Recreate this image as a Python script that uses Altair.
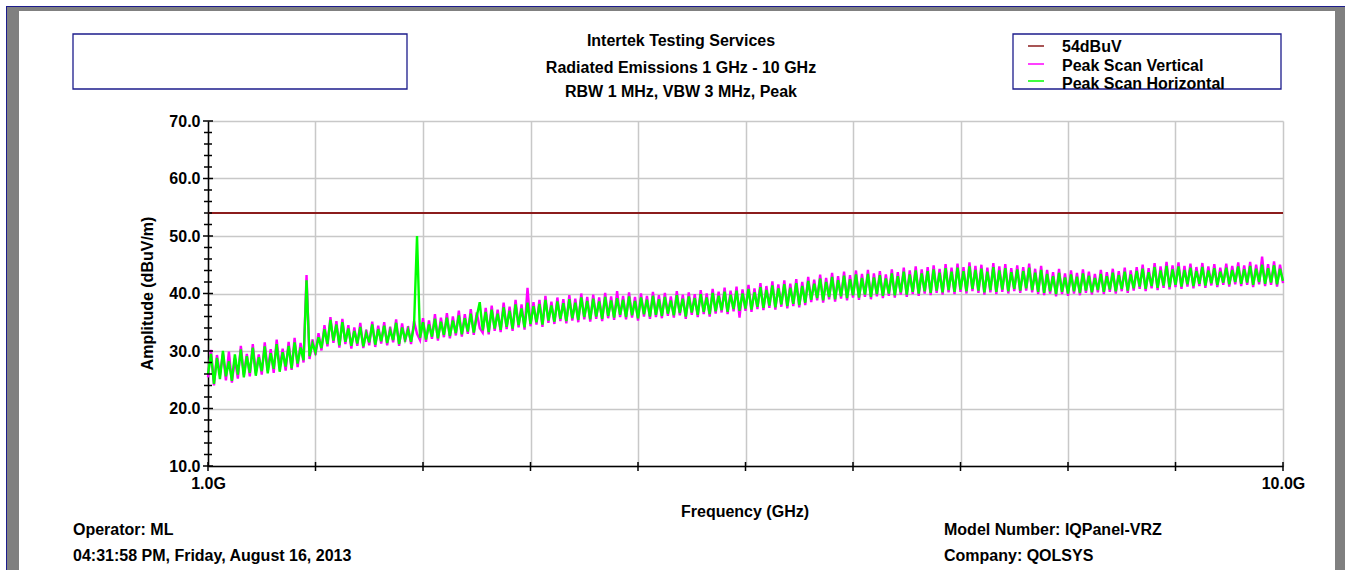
import altair as alt
import pandas as pd

# Sweep settings (GHz)
FREQ_START = 1.0
FREQ_STEP = 0.025

# Peak scan, vertical antenna polarisation (dBuV/m), one value per sweep step
vertical = [
    25.4, 30.2, 24.0, 29.3, 25.8, 29.6, 24.9, 29.9, 24.5, 28.7,
    25.2, 30.9, 25.8, 29.5, 25.6, 31.2, 26.1, 29.4, 25.9, 31.5,
    26.5, 30.3, 26.2, 32.0, 27.0, 30.4, 26.6, 31.6, 26.7, 32.3,
    27.2, 31.4, 28.0, 43.2, 28.6, 32.0, 29.3, 33.1, 30.1, 34.5,
    30.8, 35.9, 31.4, 35.2, 30.6, 35.6, 31.2, 34.5, 30.4, 34.1,
    30.9, 34.9, 30.5, 33.7, 31.0, 35.1, 30.7, 34.4, 31.3, 35.0,
    31.0, 34.2, 31.5, 35.5, 30.9, 34.8, 31.6, 34.3, 31.2, 35.2,
    33.0, 31.9, 35.7, 31.6, 35.3, 32.1, 36.4, 31.8, 35.8, 32.4,
    36.6, 32.2, 36.0, 32.7, 37.0, 32.5, 36.4, 33.0, 37.3, 32.8,
    36.7, 34.0, 33.2, 37.5, 32.9, 37.9, 33.5, 37.2, 33.3, 38.4,
    33.8, 37.7, 33.5, 38.9, 34.1, 38.1, 33.7, 41.0, 34.3, 38.5,
    34.6, 38.9, 34.2, 39.6, 34.9, 38.6, 34.7, 39.3, 35.2, 39.0,
    34.8, 39.7, 35.3, 39.1, 35.0, 40.0, 35.5, 39.4, 35.1, 39.8,
    35.6, 39.3, 35.2, 40.1, 35.7, 39.5, 35.4, 40.4, 35.9, 39.6,
    35.5, 40.2, 35.8, 39.4, 35.3, 40.0, 36.0, 39.6, 35.6, 40.3,
    35.9, 39.7, 35.7, 40.1, 36.1, 39.5, 35.8, 40.4, 36.2, 39.8,
    35.6, 40.2, 36.3, 39.9, 35.9, 40.6, 36.4, 40.0, 36.0, 40.8,
    36.5, 40.3, 36.7, 41.0, 36.4, 40.5, 36.9, 41.2, 35.8, 40.7,
    37.0, 41.5, 36.8, 40.9, 37.3, 41.8, 37.1, 41.3, 37.5, 42.1,
    37.2, 41.6, 37.7, 42.3, 37.4, 41.7, 37.8, 42.5, 37.6, 42.0,
    38.0, 42.9, 38.5, 42.4, 38.8, 43.3, 38.4, 42.7, 39.0, 43.6,
    38.6, 43.0, 39.1, 43.8, 38.8, 43.2, 39.3, 44.0, 38.9, 43.4,
    39.4, 44.1, 39.0, 43.5, 39.5, 43.9, 39.2, 43.3, 39.6, 44.2,
    39.3, 43.7, 39.8, 44.5, 39.4, 44.0, 39.9, 44.7, 39.6, 44.2,
    40.0, 44.6, 39.7, 44.9, 40.1, 44.3, 39.8, 45.1, 40.2, 44.5,
    39.9, 45.2, 40.3, 44.6, 40.0, 45.4, 40.4, 44.8, 40.1, 45.0,
    39.8, 44.5, 40.2, 45.3, 39.9, 44.7, 40.3, 45.1, 40.0, 44.4,
    40.4, 44.9, 40.1, 44.6, 40.5, 45.2, 40.2, 44.3, 39.9, 44.8,
    39.7, 44.1, 40.0, 43.7, 39.5, 44.3, 39.9, 43.5, 39.6, 44.0,
    40.0, 43.6, 39.7, 44.2, 40.1, 43.8, 39.8, 43.4, 40.2, 44.1,
    39.9, 43.7, 40.3, 44.3, 40.0, 43.9, 40.4, 44.5, 40.1, 44.0,
    40.5, 44.6, 40.8, 45.0, 40.4, 44.4, 40.9, 45.3, 40.6, 44.7,
    41.0, 45.5, 40.7, 44.9, 41.1, 45.4, 40.8, 44.8, 41.2, 45.2,
    40.9, 44.6, 41.3, 45.3, 41.0, 44.7, 41.4, 45.1, 41.1, 44.5,
    41.5, 45.2, 41.2, 44.8, 41.6, 45.4, 41.3, 44.9, 41.5, 45.5,
    41.1, 45.0, 41.6, 46.4, 41.3, 45.1, 41.5, 45.6, 41.2, 45.0,
    41.8,
]

# Peak scan, horizontal antenna polarisation (dBuV/m)
horizontal = [
    26.0, 29.5, 24.3, 28.8, 25.1, 30.0, 25.6, 28.2, 24.8, 29.4,
    25.9, 30.3, 25.4, 29.1, 26.2, 30.6, 25.7, 28.9, 26.5, 30.8,
    26.1, 29.6, 26.9, 31.2, 26.4, 29.8, 27.3, 30.9, 27.0, 31.5,
    27.8, 30.6, 28.4, 42.3, 29.1, 31.3, 29.8, 32.4, 30.5, 33.8,
    31.2, 35.4, 31.8, 34.6, 31.0, 35.0, 31.6, 33.9, 30.9, 33.5,
    31.3, 34.2, 30.8, 33.1, 31.5, 34.6, 31.1, 33.8, 31.7, 34.4,
    31.4, 33.6, 31.9, 34.9, 31.2, 34.1, 32.0, 33.7, 31.6, 34.5,
    50.0, 32.3, 35.0, 32.0, 34.6, 32.5, 35.6, 32.2, 35.1, 32.8,
    35.8, 32.6, 35.3, 33.1, 36.2, 32.9, 35.7, 33.4, 36.5, 33.2,
    36.0, 38.5, 33.6, 36.8, 33.3, 37.2, 33.9, 36.5, 33.7, 37.6,
    34.2, 37.0, 33.9, 38.1, 34.5, 37.4, 34.1, 38.4, 34.7, 37.8,
    35.0, 38.2, 34.6, 38.9, 35.3, 37.9, 35.1, 38.6, 35.6, 38.3,
    35.2, 39.0, 35.7, 38.4, 35.4, 39.3, 35.9, 38.7, 35.5, 39.1,
    36.0, 38.6, 35.6, 39.4, 36.1, 38.8, 35.8, 39.2, 36.3, 38.9,
    35.9, 39.5, 36.2, 38.7, 35.7, 39.3, 36.4, 38.9, 36.0, 39.6,
    36.3, 39.0, 36.1, 39.4, 36.5, 38.8, 36.2, 39.7, 36.6, 39.1,
    36.0, 39.5, 36.7, 39.2, 36.3, 39.9, 36.8, 39.3, 36.4, 40.1,
    36.9, 39.6, 37.1, 40.3, 36.8, 39.8, 37.3, 40.5, 37.0, 40.0,
    37.4, 40.8, 37.2, 40.2, 37.7, 41.1, 37.5, 40.6, 37.9, 41.4,
    37.6, 40.9, 38.1, 41.6, 37.8, 41.0, 38.2, 41.8, 38.0, 41.3,
    38.4, 42.2, 38.9, 41.7, 39.2, 42.6, 38.8, 42.0, 39.4, 42.9,
    39.0, 42.3, 39.5, 43.1, 39.2, 42.5, 39.7, 43.3, 39.3, 42.7,
    39.8, 43.4, 39.4, 42.8, 39.9, 43.2, 39.6, 42.6, 40.0, 43.5,
    39.7, 43.0, 40.2, 43.8, 39.8, 43.3, 40.3, 44.0, 40.0, 43.5,
    40.4, 43.9, 40.1, 44.2, 40.5, 43.6, 40.2, 44.4, 40.6, 43.8,
    40.3, 44.5, 40.7, 43.9, 40.4, 44.7, 40.8, 44.1, 40.5, 44.3,
    40.2, 43.8, 40.6, 44.6, 40.3, 44.0, 40.7, 44.4, 40.4, 43.7,
    40.8, 44.2, 40.5, 43.9, 40.9, 44.5, 40.6, 43.6, 40.3, 44.1,
    40.1, 43.4, 40.4, 43.0, 39.9, 43.6, 40.3, 42.8, 40.0, 43.3,
    40.4, 42.9, 40.1, 43.5, 40.5, 43.1, 40.2, 42.7, 40.6, 43.4,
    40.3, 43.0, 40.7, 43.6, 40.4, 43.2, 40.8, 43.8, 40.5, 43.3,
    40.9, 43.9, 41.2, 44.3, 40.8, 43.7, 41.3, 44.6, 41.0, 44.0,
    41.4, 44.8, 41.1, 44.2, 41.5, 44.7, 41.2, 44.1, 41.6, 44.5,
    41.3, 43.9, 41.7, 44.6, 41.4, 44.0, 41.8, 44.4, 41.5, 43.8,
    41.9, 44.5, 41.6, 44.1, 42.0, 44.7, 41.7, 44.2, 41.9, 44.8,
    41.5, 44.3, 42.0, 45.0, 41.7, 44.4, 41.9, 44.9, 41.6, 44.3,
    42.2,
]

limit_level = [54.0]

x_ticks = [1.0, 1.9, 2.8, 3.7, 4.6, 5.5, 6.4, 7.3, 8.2, 9.1, 10.0]
y_ticks = [10, 20, 30, 40, 50, 60, 70]
y_minor_ticks = [v for v in range(10, 71, 2) if v % 10]

freqs = [round(FREQ_START + FREQ_STEP * i, 4) for i in range(len(horizontal))]

FONT = "Liberation Sans"
INK = "#000000"
NAVY = "#1c1c8c"
FRAME_GRAY = "#808080"
GRID = "#c8c8c8"

W, H = 1075, 345

x_scale = alt.Scale(domain=[1, 10], nice=False, zero=False)
y_scale = alt.Scale(domain=[10, 70], nice=False, zero=False)

axis_common = dict(
    grid=True,
    gridColor=GRID,
    gridWidth=1.5,
    domain=True,
    domainColor=INK,
    domainWidth=1.5,
    ticks=False,
    tickSize=0,
    labelFlush=False,
    labelOverlap=False,
    labelFont=FONT,
    labelFontSize=16,
    labelFontWeight="bold",
    labelColor=INK,
    title=None,
)
x_axis = alt.Axis(
    values=x_ticks,
    labelPadding=9,
    labelExpr="datum.value == 1 ? '1.0G' : (datum.value == 10 ? '10.0G' : '')",
    **axis_common,
)
y_axis = alt.Axis(values=y_ticks, format=".1f", labelPadding=8, **axis_common)


def xenc():
    return alt.X("freq:Q", scale=x_scale, axis=x_axis)


def yenc():
    return alt.Y("level:Q", scale=y_scale, axis=y_axis)


df_v = pd.DataFrame({"freq": freqs, "level": vertical})
df_h = pd.DataFrame({"freq": freqs, "level": horizontal})
df_limit = pd.DataFrame({"level": limit_level})
df_xt = pd.DataFrame({"freq": x_ticks})
df_yt = pd.DataFrame({"level": y_ticks})
df_ymt = pd.DataFrame({"level": y_minor_ticks})
one = pd.DataFrame({"k": [0]})

vertical_line = alt.Chart(df_v).mark_line(color="#ff00ff", strokeWidth=2.4).encode(
    x=xenc(), y=yenc()
)
horizontal_line = alt.Chart(df_h).mark_line(color="#00ff00", strokeWidth=2.4).encode(
    x=xenc(), y=yenc()
)
limit_rule = alt.Chart(df_limit).mark_rule(color="#8b1c1c", strokeWidth=2).encode(
    y=yenc()
)

# Cross ticks straddling both axis lines
y_major_ticks = alt.Chart(df_yt).mark_rule(color=INK, strokeWidth=1.5).encode(
    y=yenc(), x=alt.value(-5), x2=alt.value(5)
)
y_minor = alt.Chart(df_ymt).mark_rule(color=INK, strokeWidth=1.5).encode(
    y=yenc(), x=alt.value(-4), x2=alt.value(4)
)
x_cross_ticks = alt.Chart(df_xt).mark_rule(color=INK, strokeWidth=1.5).encode(
    x=xenc(), y=alt.value(H - 4), y2=alt.value(H + 5)
)


def panel(x, x2, y, y2, fill):
    return alt.Chart(one).mark_rect(fill=fill).encode(
        x=alt.value(x), x2=alt.value(x2), y=alt.value(y), y2=alt.value(y2)
    )


def hbar(y, x, x2, color, width):
    return alt.Chart(one).mark_rule(color=color, strokeWidth=width).encode(
        y=alt.value(y), x=alt.value(x), x2=alt.value(x2)
    )


def box(x, x2, y, y2):
    return alt.Chart(one).mark_rect(fill="#ffffff", stroke=NAVY, strokeWidth=1.3).encode(
        x=alt.value(x), x2=alt.value(x2), y=alt.value(y), y2=alt.value(y2)
    )


def label(text, x, y, align="left", size=16, angle=0):
    kw = dict(align=align, baseline="middle", font=FONT, fontSize=size,
              fontWeight="bold", color=INK)
    if angle:
        kw["angle"] = angle
    return alt.Chart(one).mark_text(**kw).encode(
        x=alt.value(x), y=alt.value(y), text=alt.value(text)
    )


def swatch(color, y):
    return hbar(y, 820, 836, color, 1.5)


# Window frame: grey bevel bands with a navy outer edge
frame = [
    panel(-201, -189, -114, 451, FRAME_GRAY),
    panel(-201, 1137, -114, -110, FRAME_GRAY),
    panel(1127, 1137, -114, 451, FRAME_GRAY),
    panel(-202, 1137, -115, -114, NAVY),
    panel(-202, -201, -115, 451, NAVY),
]

# Header boxes and legend
boxes = [box(-135, 199, -87, -32), box(805, 1073, -87, -32)]
legend = [
    swatch("#8b1c1c", -75),
    swatch("#ff00ff", -57),
    swatch("#00ff00", -40),
    label("54dBuV", 854, -74),
    label("Peak Scan Vertical", 854, -55),
    label("Peak Scan Horizontal", 854, -37.5),
]

texts = [
    label("Intertek Testing Services", 473, -80, align="center"),
    label("Radiated Emissions 1 GHz - 10 GHz", 473, -53, align="center"),
    label("RBW 1 MHz, VBW 3 MHz, Peak", 473, -29, align="center"),
    label("Amplitude (dBuV/m)", -60, H / 2, align="center", angle=270),
    label("Frequency (GHz)", 537, 391, align="center"),
    label("Operator: ML", -135, 409),
    label("04:31:58 PM, Friday, August 16, 2013", -135, 435),
    label("Model Number: IQPanel-VRZ", 736, 409),
    label("Company: QOLSYS", 736, 435),
]

chart = alt.layer(
    vertical_line,
    horizontal_line,
    limit_rule,
    y_major_ticks,
    y_minor,
    x_cross_ticks,
    *frame,
    *boxes,
    *legend,
    *texts,
).properties(
    width=W,
    height=H,
    background="#ffffff",
    padding={"left": 208, "top": 121, "right": 62, "bottom": 104},
    autosize=alt.AutoSizeParams(type="none"),
).configure_view(stroke=None)

chart.save("out.html", embed_options={"renderer": "svg", "actions": False})
